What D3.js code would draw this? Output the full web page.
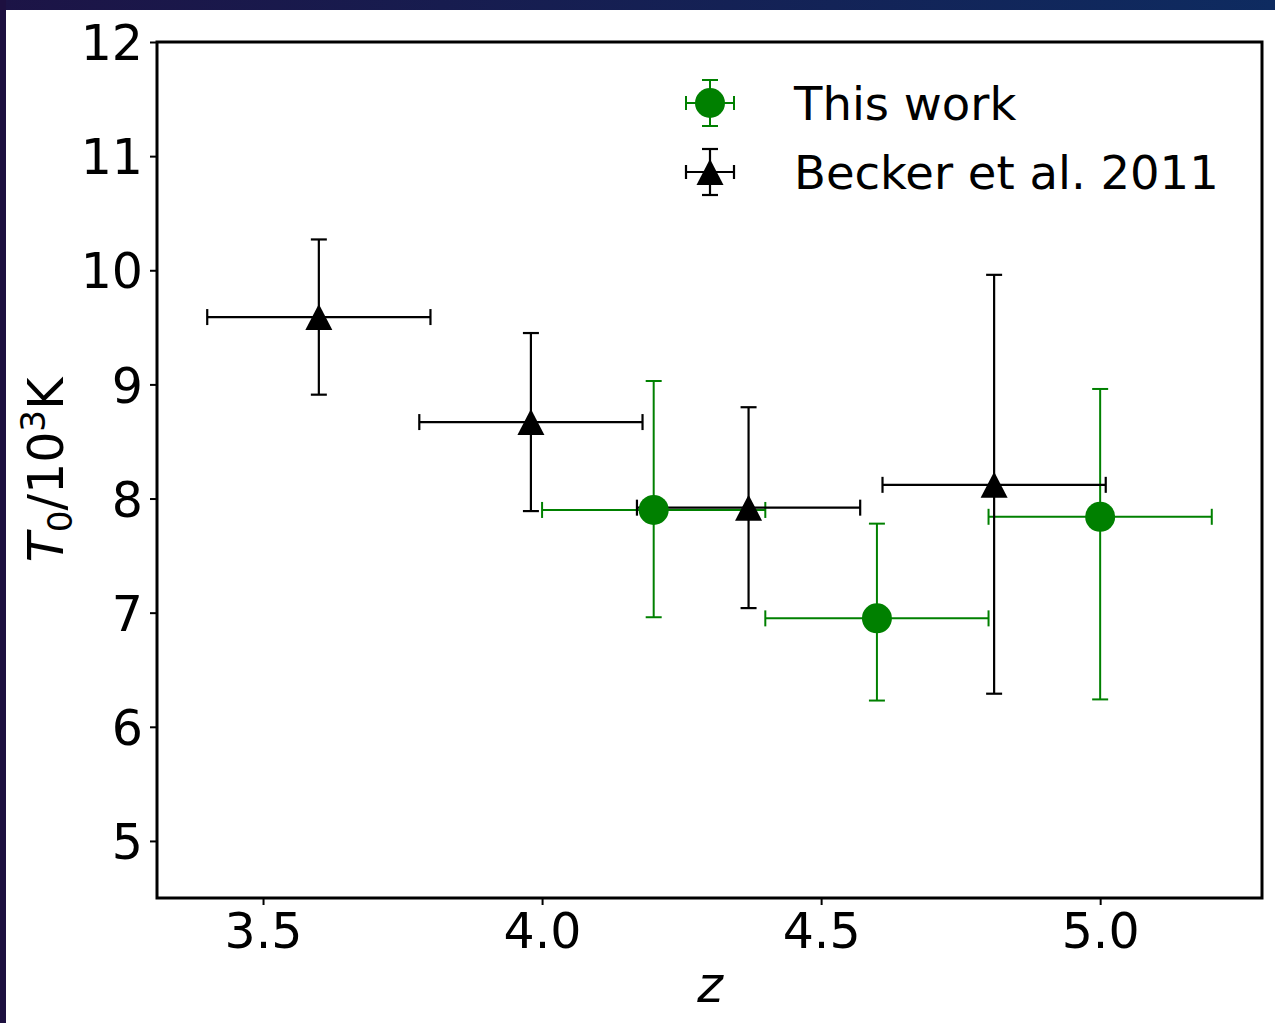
<!DOCTYPE html>
<html><head><meta charset="utf-8">
<script src="https://cdn.jsdelivr.net/npm/d3@7"></script>
<style>
html,body{margin:0;padding:0;background:#fff;}
svg text{font-family:"DejaVu Sans",sans-serif;}
</style></head>
<body>
<svg id="c" width="1275" height="1023"></svg>
<script>
// ---- data ----
const thisWorkZ    = [4.2, 4.6, 5.0];
const thisWorkZLo  = [4.0, 4.4, 4.8];
const thisWorkZHi  = [4.4, 4.8, 5.2];
const thisWorkT    = [7.90, 6.95, 7.84];
const thisWorkTLo  = [6.96, 6.23, 6.24];
const thisWorkTHi  = [9.03, 7.78, 8.96];

const beckerZ   = [3.6, 3.98, 4.37, 4.81];
const beckerZLo = [3.4, 3.78, 4.17, 4.61];
const beckerZHi = [3.8, 4.18, 4.57, 5.01];
const beckerT   = [9.59, 8.67, 7.92, 8.12];
const beckerTLo = [8.91, 7.89, 7.04, 6.29];
const beckerTHi = [10.27, 9.45, 8.80, 9.96];

const xTicks = [3.5, 4.0, 4.5, 5.0];
const yTicks = [5, 6, 7, 8, 9, 10, 11, 12];
const legendLabels = ["This work", "Becker et al. 2011"];

// ---- layout ----
const svg = d3.select("#c");
const W = 1275, H = 1023;
const L = 157, R = 1262, T = 42, B = 898;
const green = "#008000";

// page frame
const defs = svg.append("defs");
const grad = defs.append("linearGradient").attr("id","topg").attr("x1","0").attr("x2","1");
grad.append("stop").attr("offset","0").attr("stop-color","#1c1446");
grad.append("stop").attr("offset","1").attr("stop-color","#0e2b60");
svg.append("rect").attr("x",0).attr("y",0).attr("width",W).attr("height",10).attr("fill","url(#topg)");
svg.append("rect").attr("x",0).attr("y",0).attr("width",6).attr("height",H).attr("fill","#1d1040");

const x = d3.scaleLinear().domain([3.31, 5.29]).range([L, R]);
const y = d3.scaleLinear().domain([4.5, 12]).range([B, T]);

// axes
const fs = 49;
const xAxis = d3.axisBottom(x).tickValues(xTicks).tickFormat(d3.format(".1f")).tickSize(7).tickPadding(8);
const yAxis = d3.axisLeft(y).tickValues(yTicks).tickFormat(d3.format("d")).tickSize(7).tickPadding(7);
const gx = svg.append("g").attr("transform",`translate(0,${B})`).call(xAxis);
const gy = svg.append("g").attr("transform",`translate(${L},0)`).call(yAxis);
[gx, gy].forEach(g => {
  g.select(".domain").remove();
  g.selectAll(".tick line").attr("stroke","#000").attr("stroke-width",2);
  g.selectAll(".tick text").attr("fill","#000").style("font-size",fs+"px").style("font-family","DejaVu Sans");
});
gx.selectAll(".tick text").attr("dy","0.71em");
gy.selectAll(".tick text").attr("dy","0.36em");

// error bars
function errorBars(zs, zlo, zhi, ts, tlo, thi, color, sw) {
  const g = svg.append("g").attr("stroke", color).attr("stroke-width", sw).attr("fill","none");
  const cap = 8;
  zs.forEach((z, i) => {
    const cx = x(z), cy = y(ts[i]);
    g.append("line").attr("x1", x(zlo[i])).attr("x2", x(zhi[i])).attr("y1", cy).attr("y2", cy);
    g.append("line").attr("x1", cx).attr("x2", cx).attr("y1", y(tlo[i])).attr("y2", y(thi[i]));
    g.append("line").attr("x1", x(zlo[i])).attr("x2", x(zlo[i])).attr("y1", cy-cap).attr("y2", cy+cap);
    g.append("line").attr("x1", x(zhi[i])).attr("x2", x(zhi[i])).attr("y1", cy-cap).attr("y2", cy+cap);
    g.append("line").attr("x1", cx-cap).attr("x2", cx+cap).attr("y1", y(tlo[i])).attr("y2", y(tlo[i]));
    g.append("line").attr("x1", cx-cap).attr("x2", cx+cap).attr("y1", y(thi[i])).attr("y2", y(thi[i]));
  });
}
errorBars(thisWorkZ, thisWorkZLo, thisWorkZHi, thisWorkT, thisWorkTLo, thisWorkTHi, green, 2);
errorBars(beckerZ, beckerZLo, beckerZHi, beckerT, beckerTLo, beckerTHi, "#000", 2.2);

const triPath = (cx, cy) => { const w = 27, h = 26; return `M${cx},${cy-h/2}L${cx+w/2},${cy+h/2}L${cx-w/2},${cy+h/2}Z`; };

// markers
svg.append("g").selectAll("circle").data(thisWorkZ).join("circle")
  .attr("cx", d => x(d)).attr("cy", (d,i) => y(thisWorkT[i])).attr("r", 15).attr("fill", green);
svg.append("g").selectAll("path").data(beckerZ).join("path")
  .attr("d", (d,i) => triPath(x(d), y(beckerT[i]))).attr("fill", "#000");

// frame
svg.append("rect").attr("x", L).attr("y", T).attr("width", R-L).attr("height", B-T)
  .attr("fill","none").attr("stroke","#000").attr("stroke-width",3);

// legend
const lg = svg.append("g");
const lx = 710, ly = [103, 172];
function legendBars(cx, cy, color, sw){
  const g = lg.append("g").attr("stroke", color).attr("stroke-width", sw);
  g.append("line").attr("x1",cx-24).attr("x2",cx+24).attr("y1",cy).attr("y2",cy);
  g.append("line").attr("x1",cx).attr("x2",cx).attr("y1",cy-23).attr("y2",cy+23);
  g.append("line").attr("x1",cx-24).attr("x2",cx-24).attr("y1",cy-7).attr("y2",cy+7);
  g.append("line").attr("x1",cx+24).attr("x2",cx+24).attr("y1",cy-7).attr("y2",cy+7);
  g.append("line").attr("x1",cx-8).attr("x2",cx+8).attr("y1",cy-23).attr("y2",cy-23);
  g.append("line").attr("x1",cx-8).attr("x2",cx+8).attr("y1",cy+23).attr("y2",cy+23);
}
legendBars(lx, ly[0], green, 2);
lg.append("circle").attr("cx",lx).attr("cy",ly[0]).attr("r",15).attr("fill",green);
legendBars(lx, ly[1], "#000", 2.2);
lg.append("path").attr("d", triPath(lx, ly[1])).attr("fill","#000");
legendLabels.forEach((t,i) => {
  lg.append("text").attr("x", 794).attr("y", ly[i]).attr("dy","0.36em")
    .style("font-size", "46.5px").attr("fill","#000").text(t);
});

// axis labels
svg.append("text").attr("x", 710).attr("y", 1002).attr("text-anchor","middle")
  .style("font-size", fs+"px").style("font-style","italic").text("z");
const yl = svg.append("text").attr("transform", "translate(63,470) rotate(-90)")
  .attr("text-anchor","middle").style("font-size", fs+"px");
yl.append("tspan").style("font-style","italic").text("T");
yl.append("tspan").attr("dy", 9).style("font-size", (fs*0.7)+"px").text("0");
yl.append("tspan").attr("dy", -9).text("/10");
yl.append("tspan").attr("dy", -18).style("font-size", (fs*0.7)+"px").text("3");
yl.append("tspan").attr("dy", 18).text("K");
</script>
</body></html>
